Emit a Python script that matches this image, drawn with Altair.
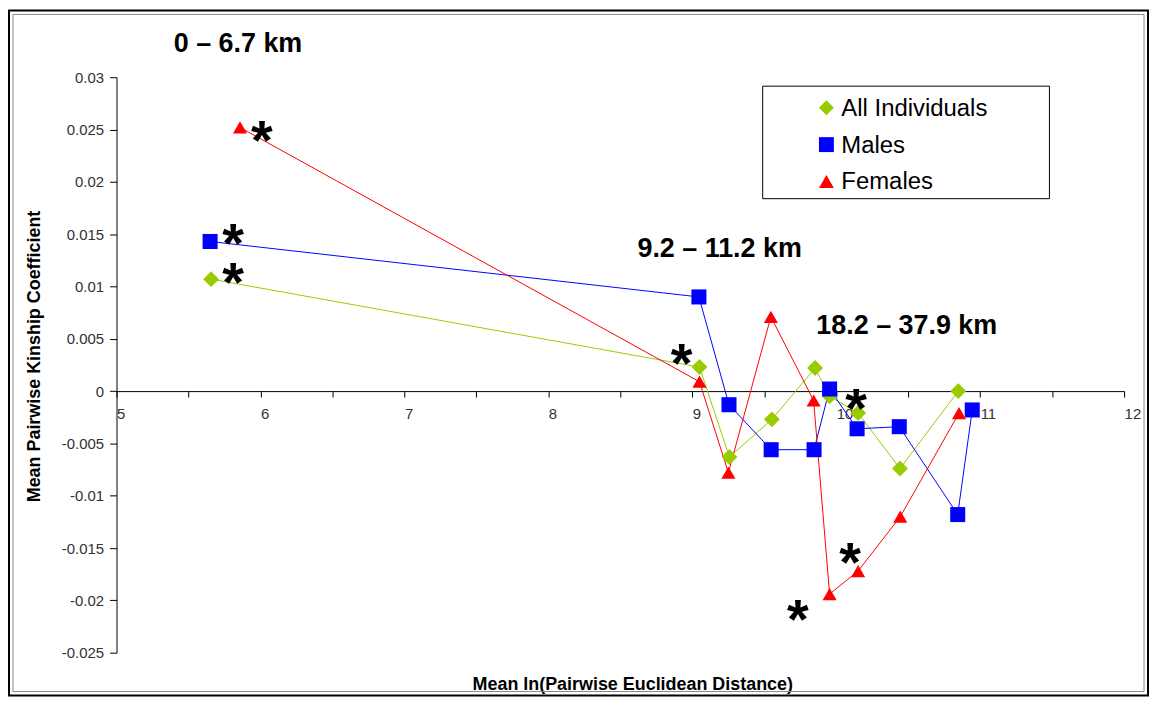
import altair as alt
import pandas as pd

# ---------------- data ----------------
series_names = ["All Individuals", "Males", "Females"]
series_colors = ["#99CC00", "#0000FF", "#FF0000"]
series_shapes = ["diamond", "square", "triangle-up"]
series_sizes = [256, 200, 240]

all_x = [5.657, 9.050, 9.258, 9.553, 9.853, 9.954, 10.152, 10.443, 10.848]
all_y = [0.0107, 0.0023, -0.0063, -0.0027, 0.0022, -0.0005, -0.0021, -0.0074, 0.0000]

male_x = [5.650, 9.046, 9.255, 9.548, 9.846, 9.954, 10.145, 10.438, 10.844, 10.945]
male_y = [0.0143, 0.0090, -0.0013, -0.0056, -0.0056, 0.0002, -0.0036, -0.0034, -0.0118, -0.0018]

female_x = [5.858, 9.050, 9.251, 9.546, 9.843, 9.954, 10.152, 10.445, 10.853]
female_y = [0.0252, 0.0009, -0.0078, 0.0071, -0.0009, -0.0194, -0.0172, -0.0120, -0.0021]

x_ticks = [5, 5.5, 6, 6.5, 7, 7.5, 8, 8.5, 9, 9.5, 10, 10.5, 11, 11.5, 12]
y_ticks = [-0.025, -0.02, -0.015, -0.01, -0.005, 0, 0.005, 0.01, 0.015, 0.02, 0.025, 0.03]

# significance stars: (series index, point index, pixel dx, pixel dy)
star_marks = [(2, 0, 22, 0), (1, 0, 23, -11), (0, 0, 22, -10), (0, 1, -18, -17),
              (0, 6, -2, -18), (2, 6, -8, -22), (2, 5, -32, 12)]

region_texts = ["0 \u2013 6.7 km", "9.2 \u2013 11.2 km", "18.2 \u2013 37.9 km"]
region_x = [5.844, 9.19, 10.49]
region_y = [0.0332, 0.0136, 0.0062]

x_title = "Mean ln(Pairwise Euclidean Distance)"
y_title = "Mean Pairwise Kinship Coefficient"

# ---------------- layout ----------------
FONT = "Liberation Sans"
W, H = 1012, 578
X_DOM = [5, 12]
Y_DOM = [-0.025, 0.03]
PAD_L, PAD_T = 109, 68
SVG_W, SVG_H = 1146, 690
px_per_x = W / (X_DOM[1] - X_DOM[0])
px_per_y = H / (Y_DOM[1] - Y_DOM[0])
zero_from_bottom = H * (0 - Y_DOM[0]) / (Y_DOM[1] - Y_DOM[0])


def to_x(px):  # plot-area pixel -> data x
    return X_DOM[0] + px / px_per_x


def to_y(py):  # plot-area pixel -> data y
    return Y_DOM[1] - py / px_per_y


xs = [all_x, male_x, female_x]
ys = [all_y, male_y, female_y]
rows = []
for s, name in enumerate(series_names):
    for i, (xv, yv) in enumerate(zip(xs[s], ys[s])):
        rows.append({"series": name, "x": xv, "y": yv, "order": i, "s": s})
df = pd.DataFrame(rows)

STAR_SIZE = 56
star_rows = []
for s, i, dx, dy in star_marks:
    star_rows.append({"x": xs[s][i] + dx / px_per_x, "y": ys[s][i] - dy / px_per_y, "t": "*"})
stars_df = pd.DataFrame(star_rows)

regions_df = pd.DataFrame({"x": region_x, "y": region_y, "t": region_texts})

# manual legend (box page 766..1054 x 85..198; rows ~37 px apart)
LEG_SYM_PX, LEG_TXT_PX, LEG_ROW0, LEG_STEP = 713, 728, 30.7, 37
legend_df = pd.DataFrame({
    "series": series_names,
    "x": [to_x(LEG_SYM_PX)] * 3,
    "tx": [to_x(LEG_TXT_PX)] * 3,
    "y": [to_y(LEG_ROW0 + k * LEG_STEP) for k in range(3)],
})

xscale = alt.Scale(domain=X_DOM, nice=False, zero=False)
yscale = alt.Scale(domain=Y_DOM, nice=False, zero=False)
color_scale = alt.Scale(domain=series_names, range=series_colors)
shape_scale = alt.Scale(domain=series_names, range=series_shapes)
size_scale = alt.Scale(domain=series_names, range=series_sizes)

x_axis = alt.Axis(
    values=x_ticks,
    labelExpr="datum.value % 1 == 0 ? format(datum.value, 'd') : ''",
    offset=-zero_from_bottom,
    grid=False, domainColor="#000000", domainWidth=1,
    tickColor="#000000", tickSize=6, tickWidth=1,
    labelFont=FONT, labelFontSize=15, labelColor="#333333",
    labelPadding=10, labelAlign="left", labelFlush=False, labelOverlap=False,
    title=x_title, titleFont=FONT, titleFontSize=18, titleFontWeight="bold",
    titleColor="#000000", titleX=518, titleY=295, titleBaseline="middle",
)
y_axis = alt.Axis(
    values=y_ticks,
    labelExpr="datum.value < 0 ? '-' + format(-datum.value, '~g') : format(datum.value, '~g')",
    grid=False, domainColor="#000000", domainWidth=1,
    tickColor="#000000", tickSize=7, tickWidth=1,
    labelFont=FONT, labelFontSize=15, labelColor="#333333",
    labelPadding=6, labelOverlap=False, labelFlush=False,
    title=y_title, titleFont=FONT, titleFontSize=18, titleFontWeight="bold",
    titleColor="#000000", titleAngle=270, titleX=-82, titleY=280,
    titleAlign="center", titleBaseline="middle",
)

frame_df = pd.DataFrame({"k": [0]})
frame_outer = alt.Chart(frame_df).mark_rect(fillOpacity=0, stroke="#000000", strokeWidth=2).encode(
    x=alt.value(-(PAD_L - 1)), x2=alt.value(SVG_W - PAD_L - 1),
    y=alt.value(-(PAD_T - 1)), y2=alt.value(SVG_H - PAD_T - 1),
)
frame_inner = alt.Chart(frame_df).mark_rect(fillOpacity=0, stroke="#888888", strokeWidth=1).encode(
    x=alt.value(-(PAD_L - 5)), x2=alt.value(SVG_W - PAD_L - 5),
    y=alt.value(-(PAD_T - 5)), y2=alt.value(SVG_H - PAD_T - 5),
)
legend_box = alt.Chart(frame_df).mark_rect(fillOpacity=0, stroke="#000000", strokeWidth=1).encode(
    x=alt.value(649), x2=alt.value(937), y=alt.value(9), y2=alt.value(122),
)

lines = alt.Chart(df).mark_line(strokeWidth=1).encode(
    x=alt.X("x:Q", scale=xscale, axis=x_axis),
    y=alt.Y("y:Q", scale=yscale, axis=y_axis),
    color=alt.Color("series:N", scale=color_scale, legend=None),
    detail="series:N",
    order="order:Q",
)

points = alt.Chart(df).mark_point(filled=True, opacity=1, strokeWidth=0).encode(
    x=alt.X("x:Q", scale=xscale),
    y=alt.Y("y:Q", scale=yscale),
    color=alt.Color("series:N", scale=color_scale, legend=None),
    shape=alt.Shape("series:N", scale=shape_scale, legend=None),
    size=alt.Size("series:N", scale=size_scale, legend=None),
    order="s:Q",
)

legend_symbols = alt.Chart(legend_df).mark_point(filled=True, opacity=1, strokeWidth=0, size=225).encode(
    x=alt.X("x:Q", scale=xscale),
    y=alt.Y("y:Q", scale=yscale),
    color=alt.Color("series:N", scale=color_scale, legend=None),
    shape=alt.Shape("series:N", scale=shape_scale, legend=None),
)
legend_labels = alt.Chart(legend_df).mark_text(
    font=FONT, fontSize=24, color="#000000", align="left", baseline="middle", dy=1,
).encode(x=alt.X("tx:Q", scale=xscale), y=alt.Y("y:Q", scale=yscale), text="series:N")

stars = alt.Chart(stars_df).mark_text(
    font=FONT, fontSize=STAR_SIZE, fontWeight="bold", color="#000000",
    align="center", baseline="middle", dy=round(0.27 * STAR_SIZE),
).encode(x=alt.X("x:Q", scale=xscale), y=alt.Y("y:Q", scale=yscale), text="t:N")

regions = alt.Chart(regions_df).mark_text(
    font=FONT, fontSize=27, fontWeight="bold", color="#000000",
    align="center", baseline="middle",
).encode(x=alt.X("x:Q", scale=xscale), y=alt.Y("y:Q", scale=yscale), text="t:N")

chart = alt.layer(frame_outer, frame_inner, legend_box, lines, points,
                  legend_symbols, legend_labels, stars, regions).properties(
    width=W, height=H,
    autosize=alt.AutoSizeParams(type="none"),
    padding={"left": PAD_L, "top": PAD_T, "right": SVG_W - PAD_L - W, "bottom": SVG_H - PAD_T - H},
    background="#FFFFFF",
).configure_view(stroke=None)

chart.save("out.html", embed_options={"renderer": "svg", "actions": False})
